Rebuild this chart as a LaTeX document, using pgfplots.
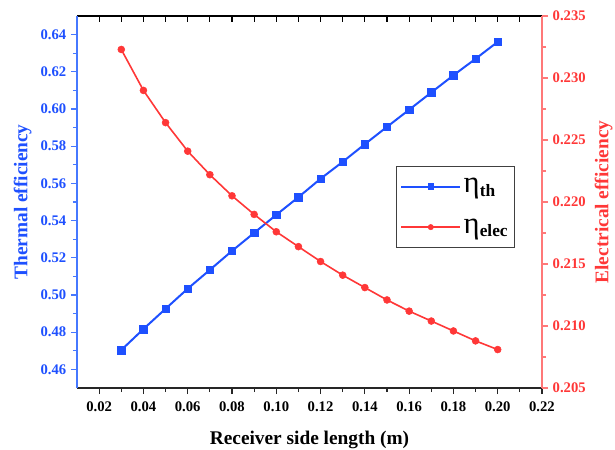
\documentclass[border=0pt]{standalone}
\usepackage{fontspec}
\setmainfont{Liberation Serif}
\usepackage{pgfplots}
\pgfplotsset{compat=1.18}
\definecolor{blueC}{RGB}{30,80,255}
\definecolor{blueAxis}{RGB}{70,120,255}
\definecolor{redC}{RGB}{255,55,55}
\definecolor{redAxis}{RGB}{255,120,120}
\begin{document}
\begin{tikzpicture}
\pgfplotsset{
  common/.style={scale only axis, width=348.75pt, height=279pt, xmin=0.01, xmax=0.22,
    scaled ticks=false,
    /pgf/number format/assume math mode=true,
    tick label style={font=\bfseries\fontsize{11}{11}\selectfont},
    label style={font=\bfseries\fontsize{14.5}{14.5}\selectfont},
    axis line style={line width=0.8pt},
    major tick length=4.5pt, minor tick length=3pt,
  }
}
% top axis (ticks inward)
\begin{axis}[common, axis x line*=top, axis y line=none, ymin=0, ymax=1,
  xtick={0.02,0.03,0.04,0.05,0.06,0.07,0.08,0.09,0.10,0.11,0.12,0.13,0.14,0.15,0.16,0.17,0.18,0.19,0.20,0.21},
  xticklabels={}, tick align=inside, x tick style={black, line width=0.8pt}]
\end{axis}
% left axis
\begin{axis}[common, axis x line*=bottom, axis y line*=left,
  ymin=0.45, ymax=0.65,
  ytick={0.46,0.48,0.50,0.52,0.54,0.56,0.58,0.60,0.62,0.64}, minor y tick num=1,
  xtick={0.02,0.04,0.06,0.08,0.10,0.12,0.14,0.16,0.18,0.20,0.22}, minor x tick num=1,
  tick align=outside,
  xticklabel style={yshift=-2pt, /pgf/number format/.cd, fixed, fixed zerofill, precision=2},
  yticklabel style={blueC, /pgf/number format/.cd, fixed, fixed zerofill, precision=2},
  y axis line style={blueAxis}, x axis line style={black!85},
  y tick style={blueAxis, line width=0.8pt}, x tick style={black!85, line width=0.8pt},
  ylabel={Thermal efficiency}, ylabel style={blueC},
  xlabel={Receiver side length (m)}, xlabel style={black, yshift=-8pt}]
\addplot[blueC, line width=1.5pt, mark=square*, mark size=2.8pt, mark options={line width=0.4pt}] coordinates {
(0.03,0.4704) (0.04,0.4817) (0.05,0.4926) (0.06,0.5034) (0.07,0.5135) (0.08,0.5237)
(0.09,0.5334) (0.10,0.5431) (0.11,0.5526) (0.12,0.5625) (0.13,0.5716) (0.14,0.5811)
(0.15,0.5904) (0.16,0.5996) (0.17,0.6089) (0.18,0.6181) (0.19,0.6270) (0.20,0.6361)};
\end{axis}
% right axis
\begin{axis}[common, axis x line=none, axis y line*=right,
  ymin=0.205, ymax=0.235,
  ytick={0.205,0.210,0.215,0.220,0.225,0.230,0.235}, minor y tick num=1,
  tick align=outside,
  yticklabel style={redC, /pgf/number format/.cd, fixed, fixed zerofill, precision=3},
  y axis line style={redAxis}, y tick style={redAxis, line width=0.8pt},
  ylabel={Electrical efficiency}, ylabel style={redC},
  legend cell align=left,
  legend style={at={(0.686,0.597)}, anchor=north west, draw=black!75, line width=0.8pt,
    inner xsep=3pt, inner ysep=7pt, row sep=14pt, font=\fontsize{13}{13}\selectfont},
  legend image code/.code={\draw[line width=1.4pt, mark repeat=2,mark phase=2] plot coordinates {(0pt,0pt)(22pt,0pt)(44pt,0pt)};}]
\addlegendimage{blueC, mark=square*, mark size=2.2pt, mark options={line width=0.4pt}}
\addlegendentry{{\fontsize{23}{23}\selectfont η}\raisebox{-0.4ex}{\bfseries th}}
\addlegendimage{redC, mark=*, mark size=2pt, mark options={line width=0.4pt}}
\addlegendentry{{\fontsize{23}{23}\selectfont η}\raisebox{-0.4ex}{\bfseries elec}}
\addplot[redC, line width=1.2pt, mark=*, mark size=2.6pt, mark options={line width=0.4pt}, forget plot] coordinates {
(0.03,0.2323) (0.04,0.2290) (0.05,0.2264) (0.06,0.2241) (0.07,0.2222) (0.08,0.2205)
(0.09,0.2190) (0.10,0.2176) (0.11,0.2164) (0.12,0.2152) (0.13,0.2141) (0.14,0.2131)
(0.15,0.2121) (0.16,0.2112) (0.17,0.2104) (0.18,0.2096) (0.19,0.2088) (0.20,0.2081)};
\end{axis}
\pgfresetboundingbox
\path (-57.75pt,-46.5pt) rectangle (403.5pt,291pt);
\end{tikzpicture}
\end{document}
